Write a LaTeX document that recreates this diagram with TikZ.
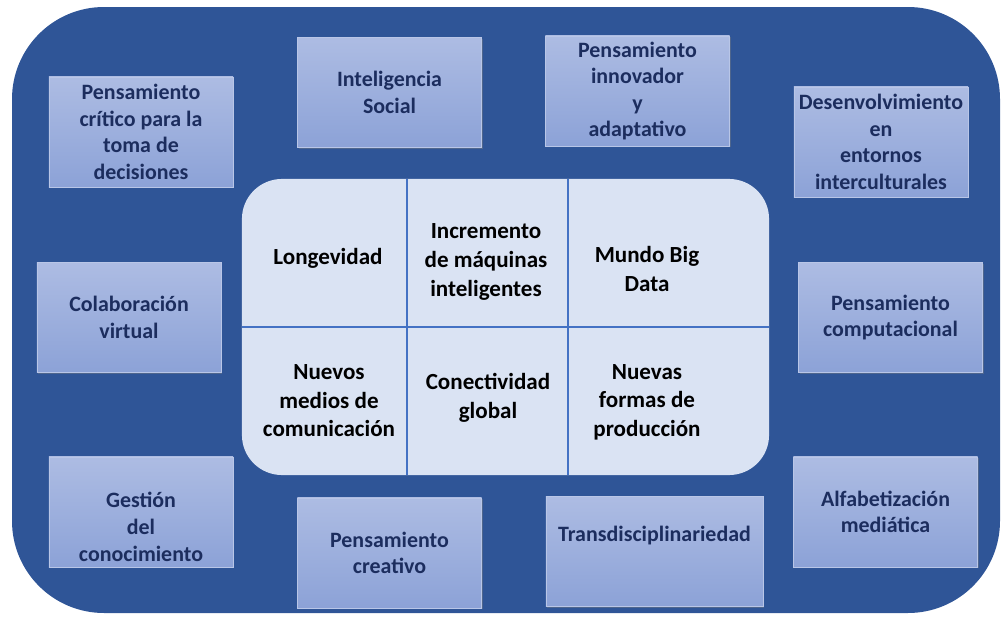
\documentclass[tikz,border=0pt]{standalone}
\usepackage{fontspec}
\setmainfont{Carlito}
\usetikzlibrary{shadows}
\definecolor{frameblue}{HTML}{2F5597}
\definecolor{boxtop}{HTML}{ADBCE3}
\definecolor{boxbot}{HTML}{8CA2D7}
\definecolor{boxtext}{HTML}{1C2D5E}
\definecolor{hubfill}{HTML}{DAE3F3}
\definecolor{gridblue}{HTML}{4472C4}
\begin{document}
\begin{tikzpicture}[x=0.025cm, y=-0.025cm,
  skill/.style={draw=boxtop!85!white, line width=0.5pt, top color=boxtop, bottom color=boxbot,
    minimum width=4.6cm, minimum height=2.75cm, inner sep=1pt, align=center, text=boxtext,
    font=\fontsize{15.6}{18.9}\selectfont\bfseries,
    drop shadow={opacity=0.4, shadow xshift=1pt, shadow yshift=-1pt}},
  trend/.style={align=center, font=\fontsize{16.4}{20.3}\selectfont\bfseries},
  divider/.style={draw=gridblue, line width=2.1pt}]
\useasboundingbox (0,0) rectangle (1002,619);
\fill[frameblue, rounded corners=2.3cm] (12,7) rectangle (1000,613);
% outer ring of skills
\node[skill] (critico) at (141,132) {Pensamiento\\crítico para la\\toma de\\decisiones};
\node[skill] (social) at (389.5,92.5) {Inteligencia\\Social};
\node[skill] (innova) at (637.5,91) {Pensamiento\\innovador\\y\\adaptativo};
\node[skill, minimum width=4.35cm] (intercult) at (881,142) {Desenvolvimiento\\en\\entornos\\interculturales};
\node[skill] (colab) at (129,317.5) {Colaboración\\virtual};
\node[skill] (comput) at (890.5,317.5) {Pensamiento\\computacional};
\node[skill] (gestion) at (141,512) {\strut\\Gestión\\del\\conocimiento};
\node[skill] (creativo) at (389.5,553) {Pensamiento\\creativo};
\node[skill, minimum width=5.425cm] (transdis) at (654.5,551.5) {Transdisciplinariedad\\\strut};
\node[skill] (alfabet) at (885.5,512) {Alfabetización\\mediática};
% central table of trends
\node[fill=hubfill, rounded corners=1cm, minimum width=13.175cm, minimum height=7.4cm] (hub) at (505.5,327) {};
\coordinate (colA) at (407,0);
\coordinate (colB) at (568,0);
\draw[divider] (hub.west) -- (hub.east);
\draw[divider] (hub.north -| colA) -- (hub.south -| colA);
\draw[divider] (hub.north -| colB) -- (hub.south -| colB);
\node[trend] (longev) at (328,258) {Longevidad};
\node[trend] (maquinas) at (486,262) {Incremento\\de máquinas\\inteligentes};
\node[trend] (bigdata) at (647,269) {Mundo Big\\Data};
\node[trend] (medios) at (329,401) {Nuevos\\medios de\\comunicación};
\node[trend] (conect) at (488,398) {Conectividad\\global};
\node[trend] (produc) at (647,402) {Nuevas\\formas de\\producción};
\end{tikzpicture}
\end{document}
